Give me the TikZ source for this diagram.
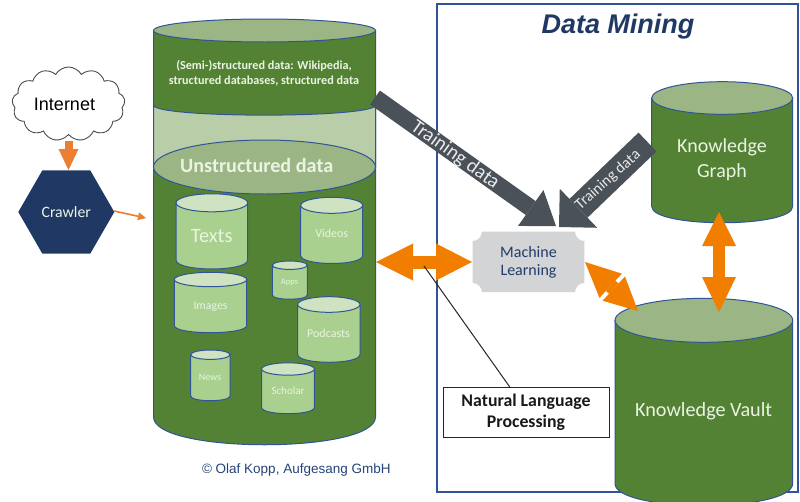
\documentclass[tikz,border=0pt]{standalone}
\usepackage{fontspec}
\setmainfont{Carlito}
\newfontfamily\arialfont{Liberation Sans}
\usetikzlibrary{arrows.meta,shapes.symbols,shapes.geometric}
\definecolor{bodygreen}{HTML}{548235}
\definecolor{lidgreen}{HTML}{9BB585}
\definecolor{bandgreen}{HTML}{B9CDA8}
\definecolor{smallbody}{HTML}{A9D08E}
\definecolor{smalllid}{HTML}{CFE3C2}
\definecolor{edgeblue}{HTML}{2F5597}
\definecolor{navy}{HTML}{1F3864}
\definecolor{slatedark}{HTML}{4A5158}
\definecolor{flow}{HTML}{F27E00}
\definecolor{feed}{HTML}{ED7D31}
\definecolor{paletext}{HTML}{EAF4E2}
\definecolor{plaquegrey}{HTML}{D2D4D5}
\tikzset{
  x=1pt,y=-1pt,
  label text/.style={inner sep=0pt,align=center,text=paletext},
  edge line/.style={draw=edgeblue,line width=1pt},
  training big/.style={draw=slatedark,line width=17pt,
    -{Triangle[length=31pt,width=44pt,line width=0pt,fill=slatedark]}},
  training small/.style={draw=slatedark,line width=26pt,
    -{Triangle[length=27pt,width=54pt,line width=0pt,fill=slatedark]}},
  flow arrow/.style={draw=flow,line width=#1},
}
% Cylinder: name, left, right, lid centre y, bottom side y, lid radius, body, lid, label node
\newcommand{\dbcyl}[9]{%
  \path[edge line,fill=#7] (#2,#4) -- (#2,#5)
    .. controls (#2,{#5+1.33*#6}) and (#3,{#5+1.33*#6}) .. (#3,#5) -- (#3,#4) -- cycle;
  \path[edge line,fill=#8] ({(#2+#3)/2},#4) ellipse [x radius={(#3-#2)/2*1pt},y radius=#6*1pt];
  \coordinate (#1) at ({(#2+#3)/2},{(#4+#5)/2});
  \coordinate (#1-w) at (#2,{(#4+#5)/2});
  \coordinate (#1-lid) at ({(#2+#3)/2},#4);
  #9%
}
\begin{document}
\begin{tikzpicture}
\useasboundingbox (0,0) rectangle (800,501);
\fill[white] (0,0) rectangle (800,501);

% Data mining frame
\node[draw=edgeblue,line width=1.7pt,minimum width=361pt,minimum height=488pt,anchor=north west,inner sep=0pt] (frame) at (436,3) {};
\node[inner sep=0pt,text=navy] (title) at (618,26.5) {\arialfont\fontsize{27}{30}\selectfont\bfseries\itshape Data Mining};

% Storage of crawled data
\path[edge line,fill=bodygreen] (153.5,30.5) -- (153.5,417)
  .. controls (153.5,454) and (375.5,454) .. (375.5,417) -- (375.5,30.5) -- cycle;
\path[edge line,fill=bandgreen] (153.5,105) -- (153.5,167) -- (375.5,167) -- (375.5,105)
  .. controls (375.5,118.5) and (153.5,118.5) .. (153.5,105) -- cycle;
\path[edge line,fill=lidgreen] (264.5,30.5) ellipse [x radius=111pt,y radius=11.5pt];
\path[edge line,fill=lidgreen] (264.5,167) ellipse [x radius=111pt,y radius=27pt];
\node[inner sep=0pt,align=center,text=paletext,font=\bfseries\fontsize{12.2}{14.6}\selectfont] (semi) at (264,73.5)
  {(Semi-)structured data: Wikipedia,\\structured databases, structured data};
\node[inner sep=0pt,text=paletext,font=\bfseries\fontsize{20.2}{23}\selectfont] (unstructured) at (256.7,165) {Unstructured data};

% Media stores
\dbcyl{texts}{176}{247.7}{202.8}{260}{9}{smallbody}{smalllid}{\node[label text,font=\fontsize{20.4}{22}\selectfont] at (211.7,236.5) {Texts};}
\dbcyl{videos}{300.7}{362.7}{205.3}{255.5}{8}{smallbody}{smalllid}{\node[label text,font=\fontsize{12}{15}\selectfont] at (331.7,233.5) {Videos};}
\dbcyl{apps}{272.3}{307.3}{265.2}{295}{4.2}{smallbody}{smalllid}{\node[label text,font=\fontsize{8.5}{10}\selectfont] at (289.5,282) {Apps};}
\dbcyl{images}{174.3}{246.7}{279.5}{325.5}{7.2}{smallbody}{smalllid}{\node[label text,font=\fontsize{11.8}{14}\selectfont] at (210.5,306.5) {Images};}
\dbcyl{podcasts}{297.7}{360}{304.5}{354.5}{7.8}{smallbody}{smalllid}{\node[label text,font=\fontsize{12}{14}\selectfont] at (328.5,333) {Podcasts};}
\dbcyl{news}{190.7}{230}{354.7}{396}{4.7}{smallbody}{smalllid}{\node[label text,font=\fontsize{10}{12}\selectfont] at (210,377.5) {News};}
\dbcyl{scholar}{261.7}{314.3}{369}{407.5}{6.2}{smallbody}{smalllid}{\node[label text,font=\fontsize{11}{13}\selectfont] at (288,391) {Scholar};}

% Knowledge stores
\dbcyl{graph}{651.7}{792.7}{98}{206.5}{16.3}{bodygreen}{lidgreen}{\node[label text,font=\fontsize{20}{24.4}\selectfont] (graphtext) at (722,159.5) {Knowledge\\Graph};}
\dbcyl{vault}{615}{792.7}{320.3}{483.5}{22}{bodygreen}{lidgreen}{\node[label text,font=\fontsize{20.2}{24}\selectfont] (vaulttext) at (703.7,411) {Knowledge Vault};}

% Machine learning plaque
\path[fill=plaquegrey] (482,231.7) -- (575,231.7)
  .. controls (575.5,237) and (579,241) .. (584.3,241) -- (584.3,283)
  .. controls (579,283) and (575.5,287) .. (575,292) -- (482,292)
  .. controls (481.5,287) and (478,283) .. (472.7,283) -- (472.7,241)
  .. controls (478,241) and (481.5,237) .. (482,231.7) -- cycle;
\node[inner sep=0pt,align=center,text=edgeblue!70!black,font=\fontsize{16}{18.6}\selectfont,minimum width=111pt,minimum height=60pt] (ml) at (528.5,262.5) {Machine\\Learning};

% Anchor points of the block arrows
\coordinate (tdA) at (375,97.5);
\coordinate (tdAend) at (556,226);
\coordinate (tdB) at (647.5,142);
\coordinate (tdBend) at (559,227);
\coordinate (storeEdge) at (376,262);
\coordinate (mlWest) at (472,262);
\coordinate (mlEast) at (585,262);
\coordinate (vaultLid) at (638,311);
\coordinate (graphFoot) at (719,212);
\coordinate (vaultTop) at (719,312);

% Training data feeds
\draw[training big] (tdA) -- (tdAend);
\draw[training small] (tdB) -- (tdBend);
\node[inner sep=0pt,rotate=-35.5,text=white!88!slatedark,font=\fontsize{19.8}{22}\selectfont] (tdAtext) at (455,155) {Training data};
\node[inner sep=0pt,rotate=42,text=white!88!slatedark,font=\fontsize{15.6}{17}\selectfont] (tdBtext) at (608,180) {Training data};

% Two-way exchanges
\draw[flow arrow=13pt,{Triangle[length=37pt,width=37pt,line width=0pt,fill=flow]}-{Triangle[length=36pt,width=37pt,line width=0pt,fill=flow]}] (storeEdge) -- (mlWest);
\draw[flow arrow=14pt,{Triangle[length=35pt,width=33pt,line width=0pt,fill=flow]}-{Triangle[length=33pt,width=33pt,line width=0pt,fill=flow]}] (mlEast) -- (vaultLid);
\draw[flow arrow=12pt,{Triangle[length=34pt,width=34pt,line width=0pt,fill=flow]}-{Triangle[length=35pt,width=34pt,line width=0pt,fill=flow]}] (graphFoot) -- (vaultTop);

% Natural language processing callout
\node[draw=black!85,line width=1pt,fill=white,minimum width=166pt,minimum height=50pt,inner sep=0pt,align=center,font=\bfseries\fontsize{17.8}{21}\selectfont,text=black!90] (nlp) at (526,412.3) {Natural Language\\Processing};
\coordinate (nlpRoot) at (510,387.3);
\coordinate (flowMid) at (424,266);
\draw[black!85,line width=1pt] (flowMid) -- (nlpRoot);

% Crawler and its source
\node[cloud,cloud puffs=13,cloud puff arc=120,aspect=1.5,draw=black!70,line width=0.9pt,fill=white,minimum width=113pt,minimum height=74pt,inner sep=0pt] (internet) at (68.5,104) {};
\node[inner sep=0pt,font=\arialfont\fontsize{18}{20}\selectfont] (internetlabel) at (64.5,104) {Internet};
\node[regular polygon,regular polygon sides=6,fill=navy,inner sep=0pt,minimum size=96pt,text=paletext,font=\fontsize{15.8}{17}\selectfont] (crawler) at (66.3,212) {Crawler};
\coordinate (cloudFoot) at (68.5,141);
\coordinate (crawlerTop) at (68.5,170);
\coordinate (crawlerOut) at (114,211);
\coordinate (storeIn) at (146,218);
\draw[draw=feed,line width=8pt,-{Triangle[length=21pt,width=20pt,line width=0pt,fill=feed]}] (cloudFoot) -- (crawlerTop);
\draw[draw=feed,line width=1.6pt,-{Triangle[length=8pt,width=8pt,line width=0pt,fill=feed]}] (crawlerOut) -- (storeIn);

% Copyright line
\node[inner sep=0pt,text=edgeblue!80!black,font=\arialfont\fontsize{13.5}{16}\selectfont] (copy) at (296.3,470.5) {© Olaf Kopp, Aufgesang GmbH};
\end{tikzpicture}
\end{document}
